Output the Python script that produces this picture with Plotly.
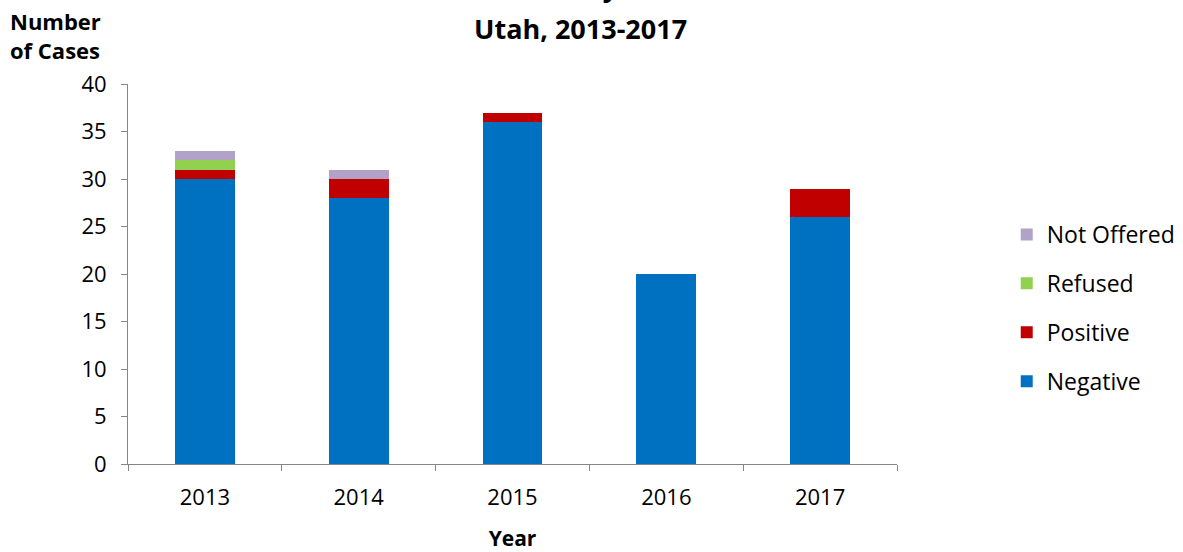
import plotly.graph_objects as go

years = ["2013", "2014", "2015", "2016", "2017"]
negative = [30, 28, 36, 20, 26]
positive = [1, 2, 1, 0, 3]
refused = [1, 0, 0, 0, 0]
not_offered = [1, 1, 0, 0, 0]

# stacking order bottom -> top, legend rank top -> bottom
series = [
    ("Negative", negative, "#0070C0", 4),
    ("Positive", positive, "#C00000", 3),
    ("Refused", refused, "#92D050", 2),
    ("Not Offered", not_offered, "#B3A2C7", 1),
]

font_family = "Open Sans, Noto Sans, sans-serif"

fig = go.Figure()
for name, vals, color, rank in series:
    fig.add_trace(go.Bar(
        x=years, y=vals, name=name, legendgroup=name, legendrank=rank,
        marker=dict(color=color, line=dict(width=0)),
    ))

fig.update_layout(
    barmode="stack",
    bargap=0.61,
    width=1183, height=552,
    margin=dict(l=128, r=286, t=84, b=88, autoexpand=False),
    plot_bgcolor="white", paper_bgcolor="white",
    font=dict(family=font_family, size=20, color="#000000"),
    showlegend=True,
    legend=dict(
        traceorder="grouped", tracegroupgap=16,
        xref="container", x=0.851, xanchor="left",
        yref="container", y=0.442, yanchor="middle",
        font=dict(size=23), itemwidth=30,
    ),
    xaxis=dict(
        type="category", showline=True, linecolor="#868686", linewidth=1,
        ticks="outside", tickson="boundaries", ticklen=6, tickcolor="#868686",
        tickfont=dict(size=22), showgrid=False, ticklabelstandoff=14,
        title=dict(text="<b>Year</b>", font=dict(size=21), standoff=22),
    ),
    yaxis=dict(
        range=[0, 40], dtick=5, showline=True, linecolor="#868686", linewidth=1,
        ticks="outside", ticklen=6, tickcolor="#868686",
        tickfont=dict(size=22), showgrid=False, zeroline=False,
        ticklabelstandoff=10,
    ),
    annotations=[
        dict(text="<b>Tuberculosis Cases by HIV Test Result,</b>",
             xref="paper", yref="paper", x=0.588, y=1.0, yshift=77,
             xanchor="center", yanchor="bottom", showarrow=False,
             font=dict(size=27)),
        dict(text="<b>Utah, 2013-2017</b>",
             xref="paper", yref="paper", x=0.588, y=1.0, yshift=35,
             xanchor="center", yanchor="bottom", showarrow=False,
             font=dict(size=27)),
        dict(text="<b>Number<br>of Cases</b>",
             xref="paper", yref="paper", x=0, xshift=-120, y=1.0, yshift=17,
             xanchor="left", yanchor="bottom", align="left", showarrow=False,
             font=dict(size=22)),
    ],
)

fig.write_html("out.html")
